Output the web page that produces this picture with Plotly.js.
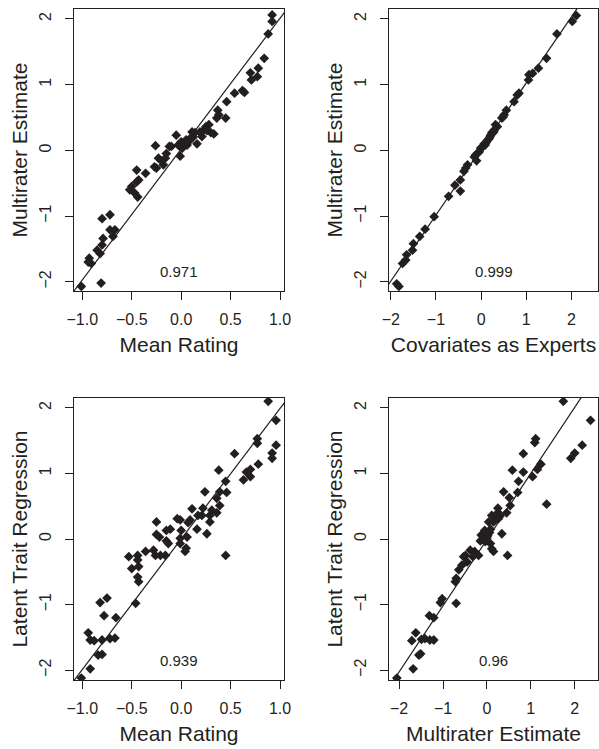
<!DOCTYPE html>
<html>
<head>
<meta charset="utf-8">
<script src="https://cdn.plot.ly/plotly-3.0.1.min.js"></script>
<style>html,body{margin:0;padding:0;background:#fff}#chart{width:599px;height:749px}</style>
</head>
<body>
<div id="chart"></div>
<script>
// ---- Panel 1: Mean Rating vs Multirater Estimate ----
var p1x = [0.92,0.92,0.88,0.84,0.78,0.77,0.70,0.71,0.64,0.62,0.54,0.46,0.45,0.37,0.36,0.38,0.30,0.28,0.25,0.23,0.21,0.19,0.16,0.11,0.14,0.09,0.05,0.04,0.01,0.00,-0.01,-0.01,-0.05,-0.10,-0.12,-0.15,-0.16,-0.18,-0.23,-0.26,-0.27,-0.25,-0.36,-0.45,-0.43,-0.45,-0.50,-0.52,-0.47,-0.44,-0.72,-0.80,-0.72,-0.67,-0.69,-0.79,-0.80,-0.82,-0.85,-0.93,-0.94,-0.91,-0.81,-1.01,0.06,0.02,0.08,0.26,0.33,-0.03,0.12,-0.20];
var p1y = [2.06,1.96,1.77,1.40,1.25,1.12,1.18,1.07,0.88,0.91,0.87,0.74,0.49,0.61,0.49,0.54,0.27,0.39,0.36,0.31,0.21,0.28,0.10,0.28,0.27,0.18,0.16,0.11,0.03,0.13,0.06,-0.09,0.23,0.06,0.06,-0.05,-0.12,-0.22,-0.12,0.07,-0.25,-0.27,-0.35,-0.30,-0.45,-0.48,-0.55,-0.60,-0.65,-0.71,-0.98,-1.04,-1.21,-1.21,-1.31,-1.34,-1.44,-1.57,-1.52,-1.64,-1.70,-1.72,-2.02,-2.07,0.08,0.10,0.14,0.30,0.25,0.08,0.20,-0.16];
var p1LineX = [-1.10, 1.06];
var p1LineY = [-2.17, 2.13];
var p1Label = "0.971";

// ---- Panel 2: Covariates as Experts vs Multirater Estimate ----
var p2x = [2.11,2.02,1.68,1.45,1.27,1.14,1.06,1.05,0.84,0.80,0.73,0.56,0.51,0.46,0.49,0.32,0.29,0.25,0.21,0.18,0.12,0.09,0.04,-0.01,-0.04,-0.12,-0.15,-0.10,-0.30,-0.34,-0.38,-0.46,-0.46,-0.58,-0.72,-1.04,-1.24,-1.36,-1.50,-1.52,-1.65,-1.67,-1.74,-1.87,-1.82,0.15,0.24,0.36,0.07,0.02,-0.07,0.28,0.20,0.10];
var p2y = [2.05,1.96,1.77,1.40,1.25,1.17,1.15,1.07,0.87,0.84,0.74,0.61,0.54,0.49,0.51,0.39,0.31,0.26,0.23,0.18,0.13,0.08,0.06,0.03,-0.02,-0.07,-0.10,-0.16,-0.22,-0.27,-0.32,-0.45,-0.62,-0.53,-0.70,-1.01,-1.20,-1.31,-1.42,-1.52,-1.59,-1.67,-1.72,-2.03,-2.07,0.16,0.27,0.36,0.10,0.05,-0.04,0.28,0.21,0.11];
var p2LineX = [-2.10, 2.20];
var p2LineY = [-2.09, 2.23];
var p2Label = "0.999";

// ---- Panel 3: Mean Rating vs Latent Trait Regression ----
var p3x = [0.88,0.96,0.96,0.92,0.92,0.77,0.77,0.78,0.54,0.70,0.66,0.63,0.70,0.38,0.45,0.46,0.39,0.36,0.39,0.36,0.24,0.31,0.29,0.29,0.26,0.22,0.21,0.17,0.16,0.11,0.09,0.07,0.45,0.06,0.05,0.04,0.00,-0.01,-0.04,-0.01,-0.01,-0.11,-0.15,-0.15,-0.13,-0.16,-0.21,-0.25,-0.25,-0.22,-0.26,-0.28,-0.36,-0.53,-0.50,-0.44,-0.44,-0.43,-0.44,-0.43,-0.46,-0.82,-0.75,-0.78,-0.66,-0.94,-0.92,-0.88,-0.80,-0.72,-0.67,-0.84,-0.80,-0.92,-1.01];
var p3y = [2.10,1.81,1.43,1.31,1.23,1.53,1.46,1.14,1.30,1.06,1.02,0.90,0.95,1.05,0.88,0.71,0.72,0.62,0.51,0.40,0.72,0.44,0.36,0.26,0.08,0.47,0.36,0.36,0.15,0.46,0.29,0.25,-0.25,0.03,-0.14,-0.19,0.13,0.29,0.31,0.01,-0.07,0.15,0.13,-0.03,-0.07,-0.25,-0.25,0.26,0.07,0.03,-0.25,-0.17,-0.19,-0.27,-0.45,-0.25,-0.32,-0.42,-0.58,-0.65,-0.98,-0.97,-0.90,-1.17,-1.20,-1.43,-1.54,-1.55,-1.54,-1.52,-1.51,-1.77,-1.76,-1.98,-2.12];
var p3LineX = [-1.10, 1.06];
var p3LineY = [-2.19, 2.11];
var p3Label = "0.939";

// ---- Panel 4: Multirater Estimate vs Latent Trait Regression ----
var p4x = [1.74,2.36,2.17,2.00,1.91,1.11,1.09,1.23,0.83,1.15,0.83,1.04,0.72,0.58,0.70,0.38,0.51,0.53,0.45,0.25,0.26,0.19,0.26,0.15,0.34,0.08,0.04,-0.05,0.11,1.36,0.47,0.00,0.08,0.11,0.15,-0.04,-0.13,-0.15,-0.19,-0.28,-0.38,-0.32,-0.49,-0.45,-0.53,-0.57,-0.64,-0.70,-0.72,-0.70,-1.02,-1.06,-1.31,-1.21,-1.62,-1.71,-1.41,-1.30,-1.21,-1.49,-1.55,-1.51,-1.68,-2.05,0.02,0.06,-0.02,0.30,0.22];
var p4y = [2.10,1.81,1.43,1.31,1.23,1.53,1.47,1.14,1.30,1.06,1.02,0.95,0.88,1.05,0.71,0.72,0.63,0.51,0.40,0.47,0.40,0.36,0.31,0.26,0.08,0.15,0.26,0.13,0.36,0.53,-0.25,0.01,-0.07,-0.15,-0.19,-0.04,0.06,-0.03,-0.25,-0.19,-0.17,-0.27,-0.25,-0.35,-0.27,-0.40,-0.47,-0.60,-0.65,-0.98,-0.91,-0.97,-1.17,-1.20,-1.43,-1.55,-1.52,-1.54,-1.54,-1.53,-1.77,-1.75,-1.98,-2.12,0.05,0.10,0.00,0.35,0.33];
var p4LineX = [-2.30, 2.20];
var p4LineY = [-2.33, 2.21];
var p4Label = "0.96";

// ---- Axis labels / ticks ----
var xTitles = ["Mean Rating", "Covariates as Experts", "Mean Rating", "Multirater Estimate"];
var yTitles = ["Multirater Estimate", "Multirater Estimate", "Latent Trait Regression", "Latent Trait Regression"];
var ratingTickVals = [-1, -0.5, 0, 0.5, 1];
var ratingTickText = ["\u22121.0", "\u22120.5", "0.0", "0.5", "1.0"];
var scoreTickVals = [-2, -1, 0, 1, 2];
var scoreTickText = ["\u22122", "\u22121", "0", "1", "2"];

var FONT = "Liberation Sans, Arial, Helvetica, sans-serif";
var INK = "#231f20";

var panels = [
  {x: p1x, y: p1y, lx: p1LineX, ly: p1LineY, lab: p1Label, xa: "x", ya: "y"},
  {x: p2x, y: p2y, lx: p2LineX, ly: p2LineY, lab: p2Label, xa: "x2", ya: "y2"},
  {x: p3x, y: p3y, lx: p3LineX, ly: p3LineY, lab: p3Label, xa: "x3", ya: "y3"},
  {x: p4x, y: p4y, lx: p4LineX, ly: p4LineY, lab: p4Label, xa: "x4", ya: "y4"}
];

var data = [];
panels.forEach(function (p) {
  data.push({type: "scatter", mode: "lines", x: p.lx, y: p.ly, xaxis: p.xa, yaxis: p.ya,
    line: {color: INK, width: 1.2}, hoverinfo: "skip", showlegend: false});
  data.push({type: "scatter", mode: "markers", x: p.x, y: p.y, xaxis: p.xa, yaxis: p.ya,
    marker: {symbol: "diamond", size: 7.5, color: INK, line: {width: 0}}, showlegend: false});
});

function xAxis(domain, anchor, range, vals, text, title) {
  return {domain: domain, anchor: anchor, range: range, tickmode: "array", tickvals: vals, ticktext: text,
    showline: true, mirror: true, linecolor: INK, linewidth: 1, ticks: "outside", ticklen: 8, tickwidth: 1,
    tickcolor: INK, showgrid: false, zeroline: false, tickfont: {family: FONT, size: 16, color: INK},
    ticklabelstandoff: 6,
    title: {text: title, font: {family: FONT, size: 21, color: INK}, standoff: 10}};
}
function yAxis(domain, anchor, range, title) {
  return {domain: domain, anchor: anchor, range: range, tickmode: "array", tickvals: scoreTickVals, ticktext: scoreTickText,
    showline: true, mirror: true, linecolor: INK, linewidth: 1, ticks: "outside", ticklen: 8, tickwidth: 1,
    tickcolor: INK, showgrid: false, zeroline: false, tickangle: -90, tickfont: {family: FONT, size: 16, color: INK},
    ticklabelstandoff: 8,
    title: {text: title, font: {family: FONT, size: 21, color: INK}, standoff: 3}};
}

var LX = [74/599, 284/599], RX = [389/599, 598/599];
var TY = [1 - 291/749, 1 - 9/749], BY = [1 - 680/749, 1 - 398/749];

var layout = {
  width: 599, height: 749, margin: {l: 0, r: 0, t: 0, b: 0},
  paper_bgcolor: "#fff", plot_bgcolor: "#fff", showlegend: false,
  xaxis:  xAxis(LX, "y",  [-1.084, 1.04], ratingTickVals, ratingTickText, xTitles[0]),
  yaxis:  yAxis(TY, "x",  [-2.14, 2.15], yTitles[0]),
  xaxis2: xAxis(RX, "y2", [-2.04, 2.59], scoreTickVals, scoreTickText, xTitles[1]),
  yaxis2: yAxis(TY, "x2", [-2.14, 2.15], yTitles[1]),
  xaxis3: xAxis(LX, "y3", [-1.084, 1.04], ratingTickVals, ratingTickText, xTitles[2]),
  yaxis3: yAxis(BY, "x3", [-2.15, 2.15], yTitles[2]),
  xaxis4: xAxis(RX, "y4", [-2.23, 2.53], scoreTickVals, scoreTickText, xTitles[3]),
  yaxis4: yAxis(BY, "x4", [-2.15, 2.15], yTitles[3]),
  annotations: panels.map(function (p) {
    return {text: p.lab, xref: p.xa + " domain", yref: p.ya, x: 0.5, y: -1.85, showarrow: false,
      font: {family: FONT, size: 15, color: INK}};
  })
};

Plotly.newPlot("chart", data, layout, {staticPlot: true, displayModeBar: false});
</script>
</body>
</html>
